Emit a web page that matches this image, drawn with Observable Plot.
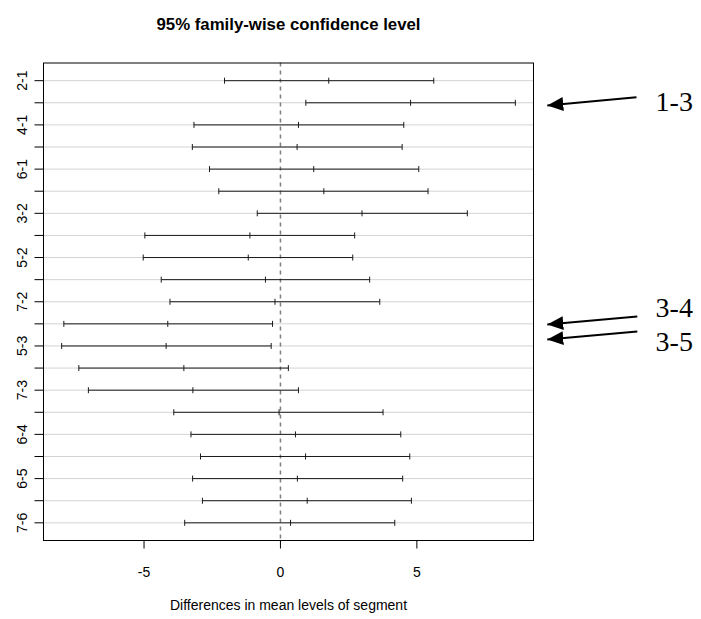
<!DOCTYPE html>
<html><head><meta charset="utf-8">
<script src="https://cdn.jsdelivr.net/npm/d3@7"></script>
<script src="https://cdn.jsdelivr.net/npm/@observablehq/plot@0.6"></script>
<style>body{margin:0;background:#fff} #chart{width:701px;height:619px}</style>
</head><body><div id="chart"></div>
<script>
// Tukey HSD comparisons (top to bottom)
const comparisons = ["2-1","3-1","4-1","5-1","6-1","7-1","3-2","4-2","5-2","6-2","7-2","4-3","5-3","6-3","7-3","5-4","6-4","7-4","6-5","7-5","7-6"];
const diffs  = [1.77, 4.77, 0.66, 0.61, 1.22, 1.59, 2.99, -1.12, -1.18, -0.55, -0.20, -4.13, -4.19, -3.54, -3.21, -0.05, 0.55, 0.92, 0.62, 0.98, 0.37];
const lowers = [-2.05, 0.93, -3.17, -3.23, -2.60, -2.26, -0.85, -4.97, -5.03, -4.37, -4.05, -7.94, -8.02, -7.39, -7.04, -3.91, -3.28, -2.93, -3.22, -2.86, -3.51];
const uppers = [5.62, 8.61, 4.52, 4.46, 5.07, 5.41, 6.85, 2.72, 2.65, 3.27, 3.64, -0.29, -0.34, 0.29, 0.66, 3.76, 4.41, 4.74, 4.48, 4.80, 4.19];
const xTicks = [-5, 0, 5];
const titleText = "95% family-wise confidence level";
const xLabelText = "Differences in mean levels of segment";

// Annotations (in data units: x = difference, y = row index)
const noteLabels = ["1-3", "3-4", "3-5"];
const noteTextX = [13.75, 13.75, 13.75];
const noteTextRow = [1.97, 11.29, 12.82];
const arrowTailX = [13.05, 13.08, 13.08];
const arrowTailRow = [1.75, 11.67, 12.35];
const arrowTipX = [9.78, 9.78, 9.78];
const arrowTipRow = [2.12, 12.03, 12.71];

const rows = comparisons.map((c, k) => ({label: c, i: k + 1, diff: diffs[k], lwr: lowers[k], upr: uppers[k]}));
const points = rows.flatMap(r => [{i: r.i, x: r.lwr}, {i: r.i, x: r.diff}, {i: r.i, x: r.upr}]);
const notes = noteLabels.map((l, k) => ({label: l, tx: noteTextX[k], ty: noteTextRow[k], x1: arrowTailX[k], y1: arrowTailRow[k], x2: arrowTipX[k], y2: arrowTipRow[k]}));

const lo = d3.min(lowers), hi = d3.max(uppers), xpad = (hi - lo) * 0.04;
const n = rows.length, ypad = (n - 1) * 0.04;
const vbar = {draw(ctx) { ctx.moveTo(0, -3); ctx.lineTo(0, 3); }};

const chart = Plot.plot({
  width: 701, height: 619,
  marginTop: 62.5, marginBottom: 79, marginLeft: 43, marginRight: 168,
  style: {fontFamily: "'Liberation Sans', Arial, sans-serif", fontSize: "14px", color: "black", background: "white", overflow: "visible"},
  x: {domain: [lo - xpad, hi + xpad]},
  y: {domain: [1 - ypad, n + ypad], reverse: true},
  marks: [
    Plot.ruleY(rows, {y: "i", stroke: "#d3d3d3", strokeWidth: 1}),
    Plot.ruleX([0], {stroke: "#7f7f7f", strokeWidth: 1.5, strokeDasharray: "4,4"}),
    Plot.link(rows, {x1: "lwr", x2: "upr", y1: "i", y2: "i", stroke: "#1a1a1a", strokeWidth: 1}),
    Plot.dot(points, {x: "x", y: "i", symbol: vbar, stroke: "#1a1a1a", fill: "none", r: 3, strokeWidth: 1}),
    Plot.frame({stroke: "black", strokeWidth: 1}),
    Plot.axisX({ticks: xTicks, tickSize: 8.5, tickPadding: 18.5, label: null, tickFormat: d => String(d), fontSize: 14}),
    Plot.axisY({ticks: rows.map(r => r.i), tickSize: 8.5, tickFormat: () => "", label: null}),
    Plot.text(rows.filter((r, k) => k % 2 === 0), {y: "i", text: "label", frameAnchor: "left", dx: -20.5, rotate: -90, textAnchor: "middle", lineAnchor: "middle", fontSize: 14}),
    Plot.text([titleText], {frameAnchor: "top", dy: -44.7, fontWeight: "bold", fontSize: 16.8}),
    Plot.text([xLabelText], {frameAnchor: "bottom", dy: 69, fontSize: 14}),
    Plot.link(notes, {x1: "x1", y1: "y1", x2: "x2", y2: "y2", stroke: "black", strokeWidth: 2, markerEnd: "arrow"}),
    Plot.text(notes, {x: "tx", y: "ty", text: "label", textAnchor: "start", lineAnchor: "middle", fontFamily: "'Liberation Serif', 'Times New Roman', serif", fontSize: 28})
  ]
});
chart.querySelectorAll("marker").forEach(m => {
  m.setAttribute("viewBox", "-8 -3.5 8 7");
  m.setAttribute("markerWidth", 8);
  m.setAttribute("markerHeight", 7);
  m.setAttribute("refX", 0);
  m.setAttribute("refY", 0);
  m.setAttribute("fill", "black");
  m.setAttribute("stroke", "none");
  m.querySelectorAll("path").forEach(p => p.setAttribute("d", "M-8,-3.5L0,0L-8,3.5Z"));
});
document.getElementById("chart").appendChild(chart);
</script>
</body></html>
